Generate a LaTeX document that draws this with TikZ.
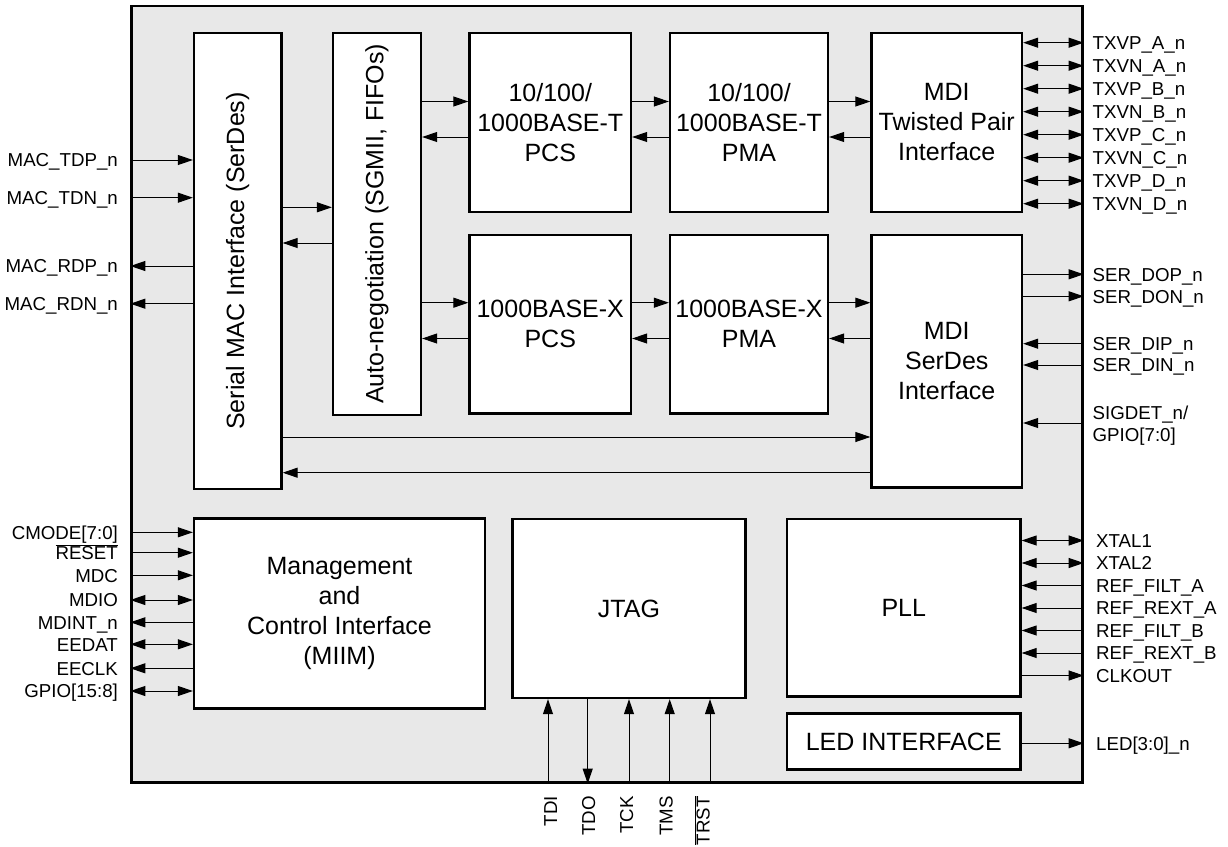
\documentclass[tikz,border=0pt]{standalone}
\usepackage{fontspec}
\setmainfont{Liberation Sans}
\usetikzlibrary{arrows.meta}
\definecolor{chipgray}{RGB}{232,232,232}
\newcommand{\sigfont}{\fontsize{18.7}{22}\selectfont}
\newcommand{\blkfont}{\fontsize{25}{30}\selectfont}

\begin{document}
\begin{tikzpicture}[x=1pt, y=-1pt, >={Triangle[length=15pt,width=10pt]},
    blk/.style={draw, fill=white, line width=2.3pt, inner sep=0pt, align=center, font=\blkfont},
    wire/.style={line width=1pt},
    lpin/.style={font=\sigfont, inner sep=0pt, anchor=base east, xshift=-12pt, yshift=-6.7pt},
    rtext/.style={font=\sigfont, inner sep=0pt, xshift=8.5pt},
    rpin/.style={rtext, anchor=base west, yshift=-6.7pt},
    ppin/.style={rpin, xshift=3.5pt},
    bpin/.style={font=\sigfont, inner sep=0pt, anchor=base east, rotate=90}]
\useasboundingbox (0,0) rectangle (1228,846);

% chip outline
\node (chip) [draw, fill=chipgray, line width=2.3pt, minimum width=951pt, minimum height=776.5pt] at (607,394.25) {};

% blocks
\node (mac) [blk, minimum width=87.5pt, minimum height=456pt] at (237.75,261) {};
\node (mactxt) [font=\blkfont, rotate=90] at (mac) {Serial MAC Interface (SerDes)};
\node (autoneg) [blk, minimum width=88pt, minimum height=382pt] at (377,224) {};
\node (antxt) [font=\blkfont, rotate=90] at (autoneg) {Auto-negotiation (SGMII, FIFOs)};
\node (pcst) [blk, minimum width=161.5pt, minimum height=179pt] at (550.25,122.5) {10/100/\\1000BASE-T\\PCS};
\node (pmat) [blk, minimum width=158pt, minimum height=179pt] at (749,122.5) {10/100/\\1000BASE-T\\PMA};
\node (mditp) [blk, minimum width=150.5pt, minimum height=179pt] at (946.75,122.5) {MDI\\Twisted Pair\\Interface};
\node (pcsx) [blk, minimum width=161.5pt, minimum height=178.5pt] at (550.25,324.25) {1000BASE-X\\PCS};
\node (pmax) [blk, minimum width=158pt, minimum height=178.5pt] at (749,324.25) {1000BASE-X\\PMA};
\node (mdiser) [blk, minimum width=150.5pt, minimum height=252.5pt] at (946.75,361.25) {MDI\\SerDes\\Interface};
\node (mgmt) [blk, minimum width=291pt, minimum height=190pt] at (339.5,613.5) {Management\\and\\Control Interface\\(MIIM)};
\node (jtag) [blk, minimum width=233pt, minimum height=179pt] at (629,608.5) {JTAG};
\node (pll) [blk, minimum width=233.5pt, minimum height=177.5pt] at (903.75,607.75) {PLL};
\node (led) [blk, minimum width=233.5pt, minimum height=56pt] at (903.75,741.5) {LED INTERFACE};

% internal data paths
\draw[wire, ->] (mac.east |- 0,207.3) -- (autoneg.west |- 0,207.3);
\draw[wire, <-] (mac.east |- 0,243) -- (autoneg.west |- 0,243);
\draw[wire, ->] (autoneg.east |- 0,101.5) -- (pcst.west |- 0,101.5);
\draw[wire, <-] (autoneg.east |- 0,137) -- (pcst.west |- 0,137);
\draw[wire, ->] (pcst.east |- 0,101.5) -- (pmat.west |- 0,101.5);
\draw[wire, <-] (pcst.east |- 0,137) -- (pmat.west |- 0,137);
\draw[wire, ->] (pmat.east |- 0,101.5) -- (mditp.west |- 0,101.5);
\draw[wire, <-] (pmat.east |- 0,137) -- (mditp.west |- 0,137);
\draw[wire, ->] (autoneg.east |- 0,302.7) -- (pcsx.west |- 0,302.7);
\draw[wire, <-] (autoneg.east |- 0,338.5) -- (pcsx.west |- 0,338.5);
\draw[wire, ->] (pcsx.east |- 0,302.7) -- (pmax.west |- 0,302.7);
\draw[wire, <-] (pcsx.east |- 0,338.5) -- (pmax.west |- 0,338.5);
\draw[wire, ->] (pmax.east |- 0,302.7) -- (mdiser.west |- 0,302.7);
\draw[wire, <-] (pmax.east |- 0,338.5) -- (mdiser.west |- 0,338.5);
\draw[wire, ->] (mac.east |- 0,437) -- (mdiser.west |- 0,437);
\draw[wire, <-] (mac.east |- 0,472.7) -- (mdiser.west |- 0,472.7);

% MAC side pins
\draw[wire, ->] (chip.west |- 0,160) node[lpin] {MAC\_TDP\_n} -- (mac.west |- 0,160);
\draw[wire, ->] (chip.west |- 0,197.7) node[lpin] {MAC\_TDN\_n} -- (mac.west |- 0,197.7);
\draw[wire, <-] (chip.west |- 0,266) node[lpin] {MAC\_RDP\_n} -- (mac.west |- 0,266);
\draw[wire, <-] (chip.west |- 0,303.7) node[lpin] {MAC\_RDN\_n} -- (mac.west |- 0,303.7);

% management pins
\draw[wire, ->] (chip.west |- 0,532.3) node[lpin] {CMODE[7:0]} -- (mgmt.west |- 0,532.3);
\draw[wire, ->] (chip.west |- 0,552.7) node[lpin] {$\overline{\mbox{RESET}}$} -- (mgmt.west |- 0,552.7);
\draw[wire, ->] (chip.west |- 0,575.3) node[lpin] {MDC} -- (mgmt.west |- 0,575.3);
\draw[wire, <->] (chip.west |- 0,600) node[lpin] {MDIO} -- (mgmt.west |- 0,600);
\draw[wire, <-] (chip.west |- 0,622.3) node[lpin] {MDINT\_n} -- (mgmt.west |- 0,622.3);
\draw[wire, <->] (chip.west |- 0,644.3) node[lpin] {EEDAT} -- (mgmt.west |- 0,644.3);
\draw[wire, <-] (chip.west |- 0,668.3) node[lpin] {EECLK} -- (mgmt.west |- 0,668.3);
\draw[wire, <->] (chip.west |- 0,691) node[lpin] {GPIO[15:8]} -- (mgmt.west |- 0,691);

% twisted pair pins
\draw[wire, <->] (mditp.east |- 0,42.7) -- (chip.east |- 0,42.7) node[rpin] {TXVP\_A\_n};
\draw[wire, <->] (mditp.east |- 0,65.7) -- (chip.east |- 0,65.7) node[rpin] {TXVN\_A\_n};
\draw[wire, <->] (mditp.east |- 0,88.7) -- (chip.east |- 0,88.7) node[rpin] {TXVP\_B\_n};
\draw[wire, <->] (mditp.east |- 0,111.7) -- (chip.east |- 0,111.7) node[rpin] {TXVN\_B\_n};
\draw[wire, <->] (mditp.east |- 0,134.7) -- (chip.east |- 0,134.7) node[rpin] {TXVP\_C\_n};
\draw[wire, <->] (mditp.east |- 0,157.7) -- (chip.east |- 0,157.7) node[rpin] {TXVN\_C\_n};
\draw[wire, <->] (mditp.east |- 0,180.7) -- (chip.east |- 0,180.7) node[rpin] {TXVP\_D\_n};
\draw[wire, <->] (mditp.east |- 0,203.7) -- (chip.east |- 0,203.7) node[rpin] {TXVN\_D\_n};

% serdes pins
\draw[wire, ->] (mdiser.east |- 0,274.3) -- (chip.east |- 0,274.3) node[rpin] {SER\_DOP\_n};
\draw[wire, ->] (mdiser.east |- 0,296.3) -- (chip.east |- 0,296.3) node[rpin] {SER\_DON\_n};
\draw[wire, <-] (mdiser.east |- 0,343.7) -- (chip.east |- 0,343.7) node[rpin] {SER\_DIP\_n};
\draw[wire, <-] (mdiser.east |- 0,365) -- (chip.east |- 0,365) node[rpin] {SER\_DIN\_n};
\draw[wire, <-] (mdiser.east |- 0,423) -- (chip.east |- 0,423) node[rtext, anchor=west, align=left, yshift=-2.7pt] {SIGDET\_n/\\GPIO[7:0]};

% clock pins
\draw[wire, <->] (pll.east |- 0,540.5) -- (chip.east |- 0,540.5) node[ppin] {XTAL1};
\draw[wire, <->] (pll.east |- 0,563) -- (chip.east |- 0,563) node[ppin] {XTAL2};
\draw[wire, <-] (pll.east |- 0,585.5) -- (chip.east |- 0,585.5) node[ppin] {REF\_FILT\_A};
\draw[wire, <-] (pll.east |- 0,608) -- (chip.east |- 0,608) node[ppin] {REF\_REXT\_A};
\draw[wire, <-] (pll.east |- 0,630.5) -- (chip.east |- 0,630.5) node[ppin] {REF\_FILT\_B};
\draw[wire, <-] (pll.east |- 0,653) -- (chip.east |- 0,653) node[ppin] {REF\_REXT\_B};
\draw[wire, ->] (pll.east |- 0,675.5) -- (chip.east |- 0,675.5) node[ppin] {CLKOUT};
\draw[wire, ->] (led.east |- 0,743.3) -- (chip.east |- 0,743.3) node[ppin] {LED[3:0]\_n};

% jtag pins
\draw[wire, <-] (jtag.south -| 548,0) -- (chip.south -| 548,0);
\draw[wire, ->] (jtag.south -| 587.7,0) -- (chip.south -| 587.7,0);
\draw[wire, <-] (jtag.south -| 629,0) -- (chip.south -| 629,0);
\draw[wire, <-] (jtag.south -| 669.7,0) -- (chip.south -| 669.7,0);
\draw[wire, <-] (jtag.south -| 710,0) -- (chip.south -| 710,0);
\node (tdi) [bpin] at (557,796) {TDI};
\node (tdo) [bpin] at (595,796) {TDO};
\node (tck) [bpin] at (633,796) {TCK};
\node (tms) [bpin] at (672.5,796) {TMS};
\node (trst) [bpin] at (709.5,796) {$\overline{\mbox{TRST}}$};
\end{tikzpicture}
\end{document}
